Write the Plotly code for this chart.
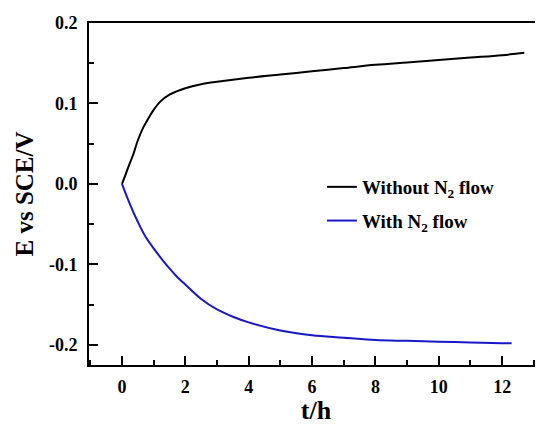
import plotly.graph_objects as go

# Data
t_without = [0, 0.1, 0.2, 0.35, 0.5, 0.67, 0.8, 1.0, 1.2, 1.5, 2.0, 2.5, 3, 4, 5, 6, 7, 8, 9, 10, 11, 12, 12.7]
e_without = [0, 0.01, 0.021, 0.036, 0.054, 0.07, 0.079, 0.092, 0.102, 0.111, 0.119, 0.124, 0.127, 0.132,
             0.136, 0.14, 0.144, 0.148, 0.151, 0.154, 0.157, 0.16, 0.163]

t_with = [0, 0.25, 0.5, 0.75, 1.0, 1.25, 1.5, 1.75, 2.0, 2.5, 3, 3.5, 4, 5, 6, 7, 8, 9, 10, 11, 12, 12.3]
e_with = [0, -0.025, -0.047, -0.066, -0.08, -0.093, -0.105, -0.116, -0.125, -0.143, -0.156, -0.165,
          -0.172, -0.182, -0.188, -0.191, -0.194, -0.195, -0.196, -0.197, -0.198, -0.198]

series_names = ["Without N<sub>2</sub> flow", "With N<sub>2</sub> flow"]
x_tick_vals = [0, 2, 4, 6, 8, 10, 12]
x_tick_labels = ["0", "2", "4", "6", "8", "10", "12"]
y_tick_vals = [-0.2, -0.1, 0.0, 0.1, 0.2]
y_tick_labels = ["-0.2", "-0.1", "0.0", "0.1", "0.2"]

FONT = "Times New Roman, Liberation Serif, DejaVu Serif, serif"

fig = go.Figure()
fig.add_trace(go.Scatter(x=t_without, y=e_without, mode="lines", name=series_names[0],
                         line=dict(color="black", width=2, shape="spline"), legendgroup="a"))
fig.add_trace(go.Scatter(x=t_with, y=e_with, mode="lines", name=series_names[1],
                         line=dict(color="#1818c8", width=2, shape="spline"), legendgroup="b"))

fig.update_layout(
    width=535, height=417,
    margin=dict(l=81, r=0, t=15, b=60),
    plot_bgcolor="white", paper_bgcolor="white",
    font=dict(family=FONT, color="black"),
    legend=dict(x=0.513, y=0.576, xanchor="left", yanchor="top",
                font=dict(family=FONT, size=19, color="black", weight="bold"),
                bgcolor="rgba(0,0,0,0)", traceorder="grouped", tracegroupgap=6),
    showlegend=True,
)
fig.update_xaxes(
    range=[-1.04, 13.29], showgrid=False, zeroline=False,
    showline=True, linecolor="black", linewidth=2, mirror=True,
    ticks="inside", ticklen=9, tickwidth=2, tickcolor="black",
    tickvals=x_tick_vals, ticktext=x_tick_labels,
    tickfont=dict(family=FONT, size=18, weight="bold"),
    ticklabelstandoff=4,
    minor=dict(dtick=1, tick0=0, ticks="inside", ticklen=5, tickwidth=2, tickcolor="black", showgrid=False),
    title=dict(text="t/h", font=dict(family=FONT, size=26, weight="bold"), standoff=6),
)
fig.update_yaxes(
    range=[-0.225, 0.2], showgrid=False, zeroline=False,
    showline=True, linecolor="black", linewidth=2,
    ticks="inside", ticklen=9, tickwidth=2, tickcolor="black",
    tickvals=y_tick_vals, ticktext=y_tick_labels,
    tickfont=dict(family=FONT, size=18, weight="bold"),
    ticklabelstandoff=6,
    minor=dict(dtick=0.05, tick0=0, ticks="inside", ticklen=5, tickwidth=2, tickcolor="black", showgrid=False),
    title=dict(text="E vs SCE/V", font=dict(family=FONT, size=25, weight="bold"), standoff=8),
)

fig.write_html("out.html")
